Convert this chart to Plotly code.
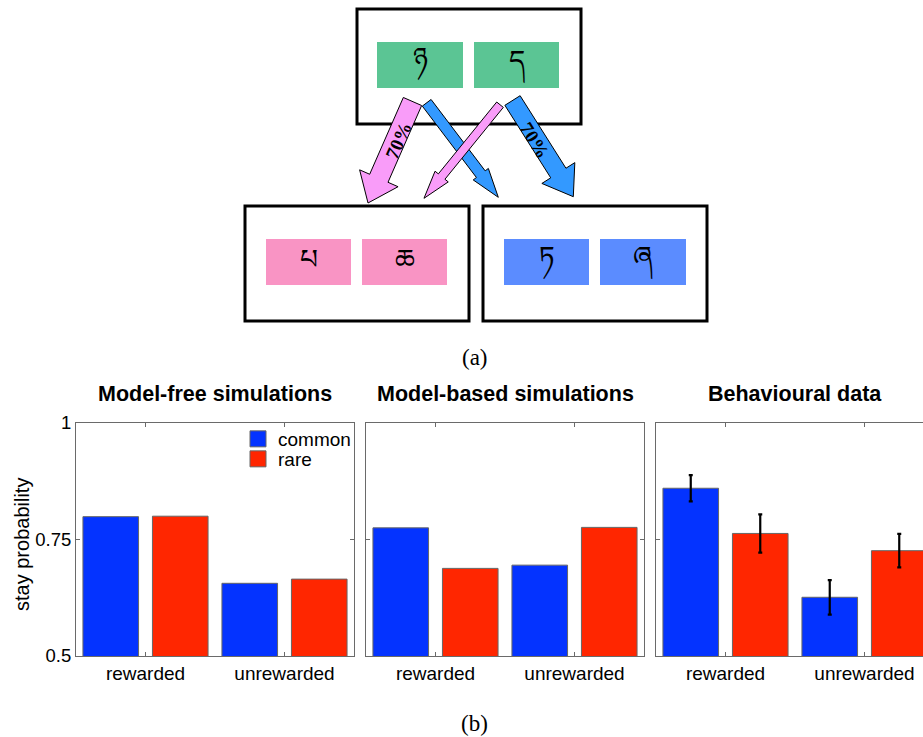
import math
import plotly.graph_objects as go

W, H = 923, 737

# ---------------- data ----------------
conditions = ["rewarded", "unrewarded"]
transitions = ["common", "rare"]
panel_titles = ["Model-free simulations", "Model-based simulations", "Behavioural data"]

model_free_common = [0.799, 0.656]
model_free_rare = [0.800, 0.665]
model_based_common = [0.775, 0.695]
model_based_rare = [0.688, 0.776]
behaviour_common = [0.860, 0.626]
behaviour_rare = [0.763, 0.726]
behaviour_common_err = [0.028, 0.037]
behaviour_rare_err = [0.041, 0.036]

y_tick_values = [0.5, 0.75, 1]
y_tick_labels = ["0.5", "0.75", "1"]
y_label = "stay probability"

transition_prob_label = "70%"
first_stage_symbols = ["ཉ", "ད"]
second_stage_a_symbols = ["པ", "ཆ"]
second_stage_b_symbols = ["ཏ", "ཞ"]
caption_a = "(a)"
caption_b = "(b)"

# ---------------- styles ----------------
BLUE = "#0433FF"
RED = "#FF2600"
EDGE = "#666666"
FRAME = "#6a6a6a"
GREEN_STIM = "#5BC594"
PINK_STIM = "#F994C4"
BLUE_STIM = "#5B8CFF"
PINK_ARROW = "#F99CF9"
BLUE_ARROW = "#3399FF"
SANS = "Liberation Sans, Arial, Helvetica, sans-serif"
SERIF = "Liberation Serif, Times New Roman, serif"
GLYPH_FONT = "Noto Sans Tibetan, Noto Serif Tibetan, Jomolhari, DejaVu Sans, Noto Sans, sans-serif"


def px(x):
    return x / W


def py(y):
    return 1 - y / H


fig = go.Figure()

# ---------------- bar panels ----------------
panels = [
    (model_free_common, model_free_rare, None, None),
    (model_based_common, model_based_rare, None, None),
    (behaviour_common, behaviour_rare, behaviour_common_err, behaviour_rare_err),
]
x_domains = [[76 / W, 354 / W], [366 / W, 644 / W], [656 / W, 1.0]]
x_ranges = [[0.5, 4.5], [0.5, 4.5], [0.5, 0.5 + 4 * (W - 656) / 278]]
y_domain = [py(656), py(423)]

n = len(conditions)
x_common = [2 * i + 1 for i in range(n)]
x_rare = [2 * i + 2 for i in range(n)]
x_ticks = [2 * i + 1.5 for i in range(n)]

for k, (vc, vr, ec, er) in enumerate(panels):
    suffix = "" if k == 0 else str(k + 1)
    for xs, vals, errs, color, name in [
        (x_common, vc, ec, BLUE, transitions[0]),
        (x_rare, vr, er, RED, transitions[1]),
    ]:
        err = None
        if errs is not None:
            err = dict(type="data", array=errs, visible=True, color="black",
                       thickness=2.2, width=2)
        fig.add_trace(go.Bar(
            x=xs, y=vals, width=0.8, name=name, legendgroup=name,
            showlegend=False,
            marker=dict(color=color, line=dict(color=EDGE, width=1)),
            error_y=err,
            xaxis="x" + suffix, yaxis="y" + suffix,
        ))
    xa = dict(domain=x_domains[k], range=x_ranges[k], anchor="y" + suffix,
              tickmode="array", tickvals=x_ticks, ticktext=conditions,
              ticks="inside", ticklen=4, tickcolor=FRAME,
              showline=True, linecolor=FRAME, linewidth=1, mirror="ticks",
              showgrid=False, zeroline=False, automargin=False,
              tickfont=dict(family=SANS, size=19, color="black"))
    ya = dict(domain=y_domain, range=[0.5, 1], anchor="x" + suffix,
              tickmode="array", tickvals=y_tick_values, ticktext=y_tick_labels,
              ticks="inside", ticklen=4, tickcolor=FRAME,
              showline=True, linecolor=FRAME, linewidth=1,
              mirror=("ticks" if k < 2 else False),
              showgrid=False, zeroline=False, showticklabels=(k == 0),
              automargin=False,
              tickfont=dict(family=SANS, size=18.5, color="black"))
    fig.update_layout(**{"xaxis" + suffix: xa, "yaxis" + suffix: ya})

# legend entries (square swatches)
for name, color, leg in [(transitions[0], BLUE, "legend"), (transitions[1], RED, "legend2")]:
    fig.add_trace(go.Scatter(
        x=[None], y=[None], mode="markers", name=name, legendgroup=name,
        legend=leg, showlegend=True,
        marker=dict(symbol="square", size=16, color=color, line=dict(color=EDGE, width=1)),
        xaxis="x", yaxis="y",
    ))

annotations = []
title_x = [215, 505, 795]
for t, cx in zip(panel_titles, title_x):
    annotations.append(dict(text="<b>%s</b>" % t, x=px(cx), y=py(394), xref="paper", yref="paper",
                            showarrow=False, xanchor="center", yanchor="middle",
                            font=dict(family=SANS, size=21.5, color="black")))
annotations.append(dict(text=y_label, x=px(22), y=py(545), xref="paper", yref="paper",
                        showarrow=False, textangle=-90, xanchor="center", yanchor="middle",
                        font=dict(family=SANS, size=20, color="black")))
annotations.append(dict(text=caption_a, x=px(475), y=py(357), xref="paper", yref="paper",
                        showarrow=False, xanchor="center", yanchor="middle",
                        font=dict(family=SERIF, size=23, color="black")))
annotations.append(dict(text=caption_b, x=px(474), y=py(723), xref="paper", yref="paper",
                        showarrow=False, xanchor="center", yanchor="middle",
                        font=dict(family=SERIF, size=23, color="black")))

# ---------------- task diagram ----------------
shapes = []
boxes = [(357, 9, 581, 124), (245, 206, 469, 321), (483, 206, 707, 321)]
for x0, y0, x1, y1 in boxes:
    shapes.append(dict(type="rect", xref="paper", yref="paper",
                       x0=px(x0), x1=px(x1), y0=py(y1), y1=py(y0),
                       line=dict(color="black", width=3), fillcolor="white"))

stim_rects = [
    ((377, 42, 463, 88), GREEN_STIM, first_stage_symbols[0], 0),
    ((474, 42, 559, 88), GREEN_STIM, first_stage_symbols[1], -3),
    ((266, 239, 351, 285), PINK_STIM, second_stage_a_symbols[0], -6),
    ((362, 239, 447, 285), PINK_STIM, second_stage_a_symbols[1], -6),
    ((504, 239, 589, 285), BLUE_STIM, second_stage_b_symbols[0], -3),
    ((600, 239, 686, 285), BLUE_STIM, second_stage_b_symbols[1], -3),
]
for (x0, y0, x1, y1), col, sym, ys in stim_rects:
    shapes.append(dict(type="rect", xref="paper", yref="paper",
                       x0=px(x0), x1=px(x1), y0=py(y1), y1=py(y0),
                       line=dict(width=0), fillcolor=col))
    annotations.append(dict(text=sym, x=px((x0 + x1) / 2), y=py((y0 + y1) / 2),
                            xref="paper", yref="paper", showarrow=False,
                            xanchor="center", yanchor="middle", yshift=ys,
                            font=dict(family=GLYPH_FONT, size=28, color="black")))


def arrow_path(start, tip, w, hw, hl):
    sx, sy = start
    tx, ty = tip
    L = math.hypot(tx - sx, ty - sy)
    ux, uy = (tx - sx) / L, (ty - sy) / L
    nx, ny = -uy, ux
    bx, by = tx - ux * hl, ty - uy * hl
    pts = [
        (sx + nx * w / 2, sy + ny * w / 2),
        (bx + nx * w / 2, by + ny * w / 2),
        (bx + nx * hw / 2, by + ny * hw / 2),
        (tx, ty),
        (bx - nx * hw / 2, by - ny * hw / 2),
        (bx - nx * w / 2, by - ny * w / 2),
        (sx - nx * w / 2, sy - ny * w / 2),
    ]
    return "M " + " L ".join("%.5f,%.5f" % (px(x), py(y)) for x, y in pts) + " Z"


# (start, tip, shaft width, head width, head length, colour) in drawing order
arrows = [
    ((426.7, 102.8), (498.3, 197.3), 11, 19, 29, BLUE_ARROW),
    ((500.0, 104.7), (424.0, 198.3), 8.5, 17, 28, PINK_ARROW),
    ((412.5, 101.5), (368.0, 203.0), 20, 42, 27, PINK_ARROW),
    ((512.5, 100.5), (573.3, 196.7), 18, 39, 28, BLUE_ARROW),
]
for s, t, w, hw, hl, col in arrows:
    shapes.append(dict(type="path", xref="paper", yref="paper",
                       path=arrow_path(s, t, w, hw, hl), fillcolor=col,
                       line=dict(color="black", width=1)))

for (cx, cy), ang in [((398.3, 140), -66), ((535, 140), 58)]:
    annotations.append(dict(text="<b>%s</b>" % transition_prob_label, x=px(cx), y=py(cy),
                            xref="paper", yref="paper", showarrow=False, textangle=ang,
                            xanchor="center", yanchor="middle",
                            font=dict(family=SERIF, size=19, color="black")))

legend_style = dict(xanchor="left", yanchor="middle", bgcolor="rgba(0,0,0,0)",
                    borderwidth=0, font=dict(family=SANS, size=19, color="black"))
fig.update_layout(
    width=W, height=H,
    margin=dict(l=0, r=0, t=0, b=0, pad=0, autoexpand=False),
    paper_bgcolor="white", plot_bgcolor="white",
    barmode="overlay",
    shapes=shapes, annotations=annotations,
    legend=dict(x=px(238), y=py(439), **legend_style),
    legend2=dict(x=px(238), y=py(459), **legend_style),
)

fig.write_html("out.html")
